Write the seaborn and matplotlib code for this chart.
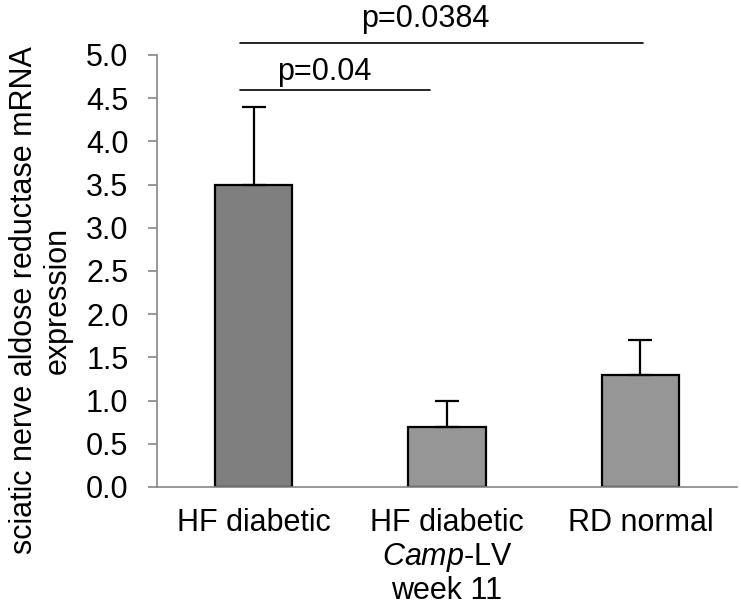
import matplotlib
matplotlib.use("Agg")
import matplotlib.pyplot as plt
import seaborn as sns
import pandas as pd

categories = ["HF diabetic", "HF diabetic\n$\\it{Camp}$-LV\nweek 11", "RD normal"]
means = [3.5, 0.7, 1.3]
err_up = [0.9, 0.3, 0.4]
bar_colors = ["#7f7f7f", "#969696", "#969696"]
yticks = [0.0, 0.5, 1.0, 1.5, 2.0, 2.5, 3.0, 3.5, 4.0, 4.5, 5.0]
ytick_labels = ["0.0", "0.5", "1.0", "1.5", "2.0", "2.5", "3.0", "3.5", "4.0", "4.5", "5.0"]
ylabel = "sciatic nerve aldose reductase mRNA\nexpression"
brackets = [  # (x_start, x_end, y_line, text, text_x, text_y)
    (-0.072, 0.91, 4.60, "p=0.04", 0.367, 4.71),
    (-0.072, 2.012, 5.14, "p=0.0384", 0.89, 5.324),
]

sns.set_style("white")
plt.rcParams["font.family"] = ["Liberation Sans", "DejaVu Sans"]
plt.rcParams["mathtext.fontset"] = "custom"
plt.rcParams["mathtext.rm"] = "Liberation Sans"
plt.rcParams["mathtext.it"] = "Liberation Sans:italic"
plt.rcParams["text.color"] = "black"
plt.rcParams["axes.labelcolor"] = "black"
plt.rcParams["xtick.labelcolor"] = "black"
plt.rcParams["ytick.labelcolor"] = "black"

FS = 22
AXC = "#868686"

fig = plt.figure(figsize=(7.41, 6.11), dpi=100)
ax = fig.add_axes([157 / 741, (611 - 487) / 611, 580 / 741, 432 / 611])

df = pd.DataFrame({"cat": categories, "val": means})
sns.barplot(data=df, x="cat", y="val", hue="cat", palette=bar_colors,
            legend=False, width=0.4, edgecolor="black", linewidth=1.6,
            errorbar=None, ax=ax, zorder=2)
ax.errorbar(range(len(means)), means, yerr=[[0] * len(means), err_up],
            fmt="none", ecolor="black", elinewidth=1.6, capsize=8.5,
            capthick=1.6, zorder=3)

ax.set_xlim(-0.5, 2.5)
ax.set_ylim(0, 5.0)
ax.set_yticks(yticks)
ax.set_yticklabels(ytick_labels, fontsize=FS, color="black")
ax.set_xticks(range(len(categories)))
ax.set_xticklabels(categories, fontsize=FS, linespacing=1.12, color="black")
ax.set_xticks([-0.5, 0.5, 1.5, 2.5], minor=True)
ax.tick_params(axis="x", which="major", length=0, pad=15)
ax.tick_params(axis="x", which="minor", length=6.5, width=1.2, color=AXC, direction="out")
ax.tick_params(axis="y", which="major", length=6.5, width=1.2, color=AXC,
               direction="out", pad=14, left=True)
ax.set_xlabel("")
ax.set_ylabel(ylabel, fontsize=FS, linespacing=1.18, color="black")
ax.yaxis.set_label_coords(-0.145, 0.433)

for s in ["top", "right"]:
    ax.spines[s].set_visible(False)
for s in ["left", "bottom"]:
    ax.spines[s].set_color(AXC)
    ax.spines[s].set_linewidth(1.2)
ax.grid(False)

for x0, x1, yl, txt, tx, ty in brackets:
    ax.plot([x0, x1], [yl, yl], color="black", lw=1.2, clip_on=False, zorder=4)
    ax.text(tx, ty, txt, ha="center", va="baseline", fontsize=FS,
            color="black", clip_on=False)

fig.savefig("out.png", dpi=100)
